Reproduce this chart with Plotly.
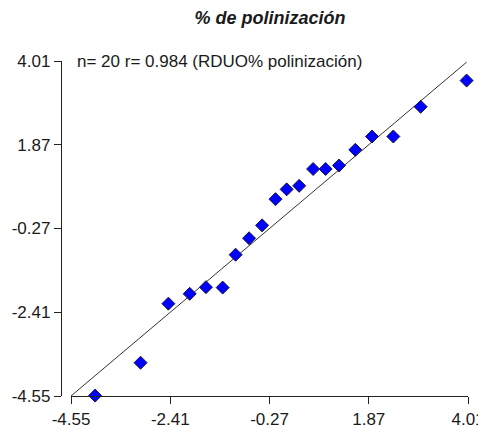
import plotly.graph_objects as go

X_VALUES = [-4.03, -3.05, -2.45, -1.99, -1.64, -1.28, -1.00, -0.71, -0.43, -0.14,
            0.10, 0.37, 0.67, 0.94, 1.23, 1.58, 1.94, 2.40, 2.99, 3.98]
Y_VALUES = [-4.54, -3.70, -2.19, -1.94, -1.77, -1.78, -0.94, -0.52, -0.19, 0.48,
            0.73, 0.82, 1.25, 1.25, 1.34, 1.74, 2.08, 2.08, 2.84, 3.51]
REF_LINE = [-4.55, 3.98]
TICKS = [-4.55, -2.41, -0.27, 1.87, 4.01]
TICK_LABELS = ["-4.55", "-2.41", "-0.27", "1.87", "4.01"]

FONT = "Liberation Sans, Arial, sans-serif"
TEXT = "#1a1a1a"

fig = go.Figure()

fig.add_trace(go.Scatter(
    x=REF_LINE, y=REF_LINE, mode="lines",
    line=dict(color="#333333", width=1),
    hoverinfo="skip", showlegend=False
))

fig.add_trace(go.Scatter(
    x=X_VALUES, y=Y_VALUES, mode="markers",
    marker=dict(symbol="diamond", size=10, color="#0000ff",
                line=dict(color="#1a1a3a", width=1)),
    cliponaxis=False, showlegend=False
))

axis_style = dict(
    range=[-4.55, 4.01], tickvals=TICKS, ticktext=TICK_LABELS,
    showgrid=False, zeroline=False, showline=True,
    linecolor="#222222", linewidth=1.3, automargin=False,
    ticks="outside", ticklen=7, tickwidth=1.3, tickcolor="#222222",
    tickfont=dict(family=FONT, size=17, color=TEXT),
)

# y axis sits a little to the left of the data area, as in the original
PLOT_W = 486 - 53 - 26
X_START = 10 / PLOT_W

fig.update_layout(
    width=486, height=429,
    paper_bgcolor="white", plot_bgcolor="white",
    margin=dict(l=53, r=26, t=53, b=41),
    title=dict(
        text="<b><i>% de polinización</i></b>",
        x=262 / 486, xanchor="center", y=1 - 10 / 429, yanchor="middle",
        font=dict(family=FONT, size=18, color=TEXT)
    ),
    xaxis=dict(axis_style, domain=[X_START, 1]),
    yaxis=dict(axis_style, anchor="free", position=0),
    annotations=[dict(
        text="n= 20 r= 0.984 (RDUO% polinización)",
        xref="paper", yref="paper", x=0.034, y=1.0,
        xanchor="left", yanchor="middle", showarrow=False,
        font=dict(family=FONT, size=17, color=TEXT)
    )],
)

fig.write_html("out.html")
